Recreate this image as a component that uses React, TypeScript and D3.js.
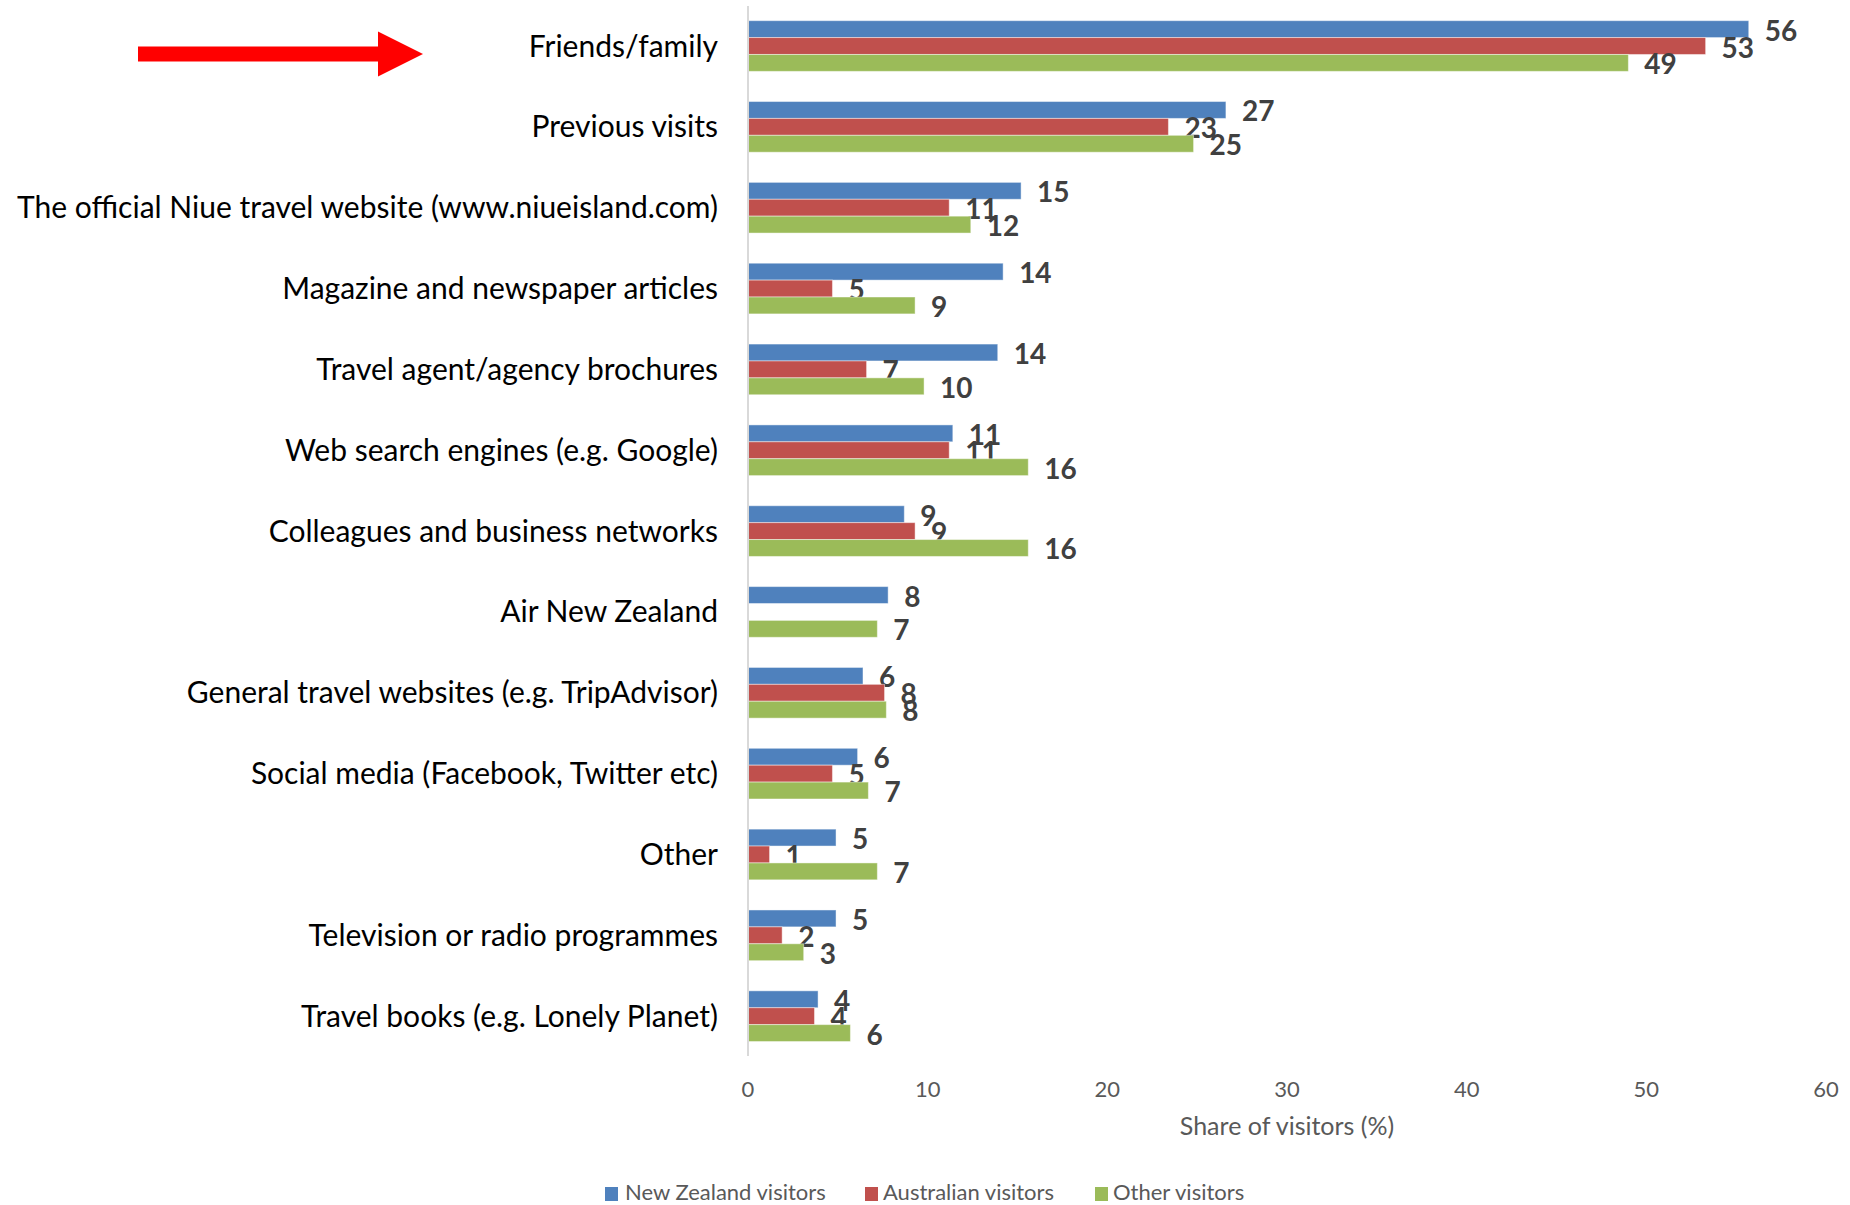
import React from "react";
import * as d3 from "d3";

const categories = [
  "Friends/family",
  "Previous visits",
  "The official Niue travel website (www.niueisland.com)",
  "Magazine and newspaper articles",
  "Travel agent/agency brochures",
  "Web search engines (e.g. Google)",
  "Colleagues and business networks",
  "Air New Zealand",
  "General travel websites (e.g. TripAdvisor)",
  "Social media (Facebook, Twitter etc)",
  "Other",
  "Television or radio programmes",
  "Travel books (e.g. Lonely Planet)",
];

const nzVisitors = [55.7, 26.6, 15.2, 14.2, 13.9, 11.4, 8.7, 7.8, 6.4, 6.1, 4.9, 4.9, 3.9];
const auVisitors: (number | null)[] = [53.3, 23.4, 11.2, 4.7, 6.6, 11.2, 9.3, null, 7.6, 4.7, 1.2, 1.9, 3.7];
const otherVisitors = [49.0, 24.8, 12.4, 9.3, 9.8, 15.6, 15.6, 7.2, 7.7, 6.7, 7.2, 3.1, 5.7];

const seriesNames = ["New Zealand visitors", "Australian visitors", "Other visitors"];
const seriesColors = ["#4F81BD", "#C0504D", "#9BBB59"];
const xTicks = [0, 10, 20, 30, 40, 50, 60];
const xTitle = "Share of visitors (%)";

const FONT = "Lato, 'Open Sans', sans-serif";

export default function App() {
  const W = 1850;
  const H = 1205;
  const x = d3.scaleLinear().domain([0, 60]).range([748, 1826]);
  const y = d3
    .scaleBand<string>()
    .domain(categories)
    .range([5.6, 1056.6])
    .paddingInner(0.373)
    .paddingOuter(0.1865);
  const ys = d3.scaleBand<number>().domain([0, 1, 2]).range([0, y.bandwidth()]);
  const series = [nzVisitors, auVisitors, otherVisitors];

  const legendItems = [
    { sq: 605, tx: 625 },
    { sq: 865, tx: 883 },
    { sq: 1095, tx: 1113 },
  ];

  return (
    <svg
      width={W}
      height={H}
      style={{ position: "absolute", left: 0, top: 0, background: "#fff" }}
      fontFamily={FONT}
    >
      {/* red arrow */}
      <polygon
        points="138,46.5 378,46.5 378,31.5 423,54 378,76.5 378,61.5 138,61.5"
        fill="#FF0000"
      />

      {/* bars */}
      {categories.map((c, i) => (
        <g key={c}>
          {series.map((s, k) => {
            const v = s[i];
            if (v === null || v === undefined) return null;
            const y0 = (y(c) as number) + (ys(k) as number);
            const h = ys.bandwidth();
            return (
              <g key={k}>
                <rect
                  x={x(0)}
                  y={y0}
                  width={x(v) - x(0)}
                  height={h}
                  fill={seriesColors[k]}
                  stroke="#ffffff"
                  strokeOpacity={0.45}
                  strokeWidth={1}
                />
                <text
                  x={x(v) + 16}
                  y={y0 + h / 2 + 11.5}
                  fontSize={28}
                  fontWeight={700}
                  fill="#404040"
                >
                  {Math.round(v)}
                </text>
              </g>
            );
          })}
          <text
            x={718}
            y={(y(c) as number) + y.bandwidth() / 2 + 10.5}
            textAnchor="end"
            fontSize={30}
            fill="#000"
          >
            {c}
          </text>
        </g>
      ))}

      {/* axis line */}
      <line x1={748} x2={748} y1={6} y2={1056} stroke="#D9D9D9" strokeWidth={2} />

      {/* x ticks */}
      {xTicks.map((t) => (
        <text key={t} x={x(t)} y={1097} textAnchor="middle" fontSize={22} fill="#595959">
          {t}
        </text>
      ))}
      <text x={(x(0) + x(60)) / 2} y={1135} textAnchor="middle" fontSize={25} fill="#595959">
        {xTitle}
      </text>

      {/* legend */}
      {seriesNames.map((n, k) => (
        <g key={n}>
          <rect x={legendItems[k].sq} y={1187} width={13} height={14} fill={seriesColors[k]} />
          <text x={legendItems[k].tx} y={1200} fontSize={22} fill="#595959">
            {n}
          </text>
        </g>
      ))}
    </svg>
  );
}
